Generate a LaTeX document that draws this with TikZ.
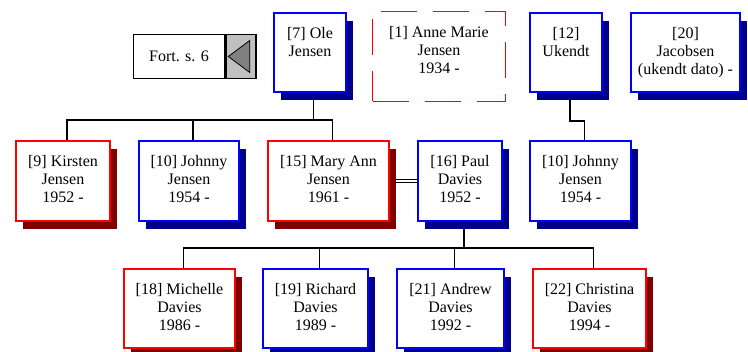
\documentclass[tikz,border=0pt]{standalone}
\usepackage{fontspec}
\setmainfont{Liberation Serif}
\usetikzlibrary{shadows, backgrounds, positioning}
\definecolor{navy}{RGB}{0,0,140}
\definecolor{maroon}{RGB}{128,0,0}
\definecolor{silver}{RGB}{192,192,192}
\newcommand{\who}[1]{\begin{tabular}[t]{@{}c@{}}#1\end{tabular}}
\tikzset{
	person/.style={draw, line width=1.6pt, fill=white, inner sep=0pt, text height=12pt, text depth=40pt},
	man/.style={person, draw=blue, drop shadow={shadow xshift=7pt, shadow yshift=-8pt, fill=navy, opacity=1}},
	woman/.style={person, draw=red, drop shadow={shadow xshift=7pt, shadow yshift=-8pt, fill=maroon, opacity=1}},
	marriage/.style={double, double distance=2.2pt, line width=0.6pt},
	descent/.style={line width=1.2pt}
}

\begin{document}
\begin{tikzpicture}[x=1pt, y=-1pt, every node/.style={font=\fontsize{16}{18}\selectfont}]
\useasboundingbox (0,0) rectangle (748,352);
% top row
\node[draw, line width=1.5pt, fill=white, minimum width=91pt, minimum height=44pt, inner sep=0pt] (fort) at (179,56.5) {Fort. s. 6};
\node[draw, line width=1.5pt, fill=silver, minimum width=30pt, minimum height=44pt, anchor=west] (fortbtn) at (fort.east) {};
\filldraw[fill=gray, line width=0.8pt] ([xshift=3pt]fortbtn.west) -- ([xshift=-7pt, yshift=16pt]fortbtn.east) -- ([xshift=-7pt, yshift=-16pt]fortbtn.east) -- cycle;
\node[man, minimum width=72.5pt, minimum height=79.5pt] (ole) at (310,52.5) {\who{[7] Ole\\Jensen}};
\node[person, draw=red, line width=0.8pt, dash pattern=on 36pt off 16pt, minimum width=133pt, minimum height=90pt, text depth=49pt] (anne) at (439,56.5) {\who{[1] Anne Marie\\Jensen\\1934 -}};
\node[man, minimum width=72.5pt, minimum height=79.5pt] (ukendt) at (566,52.5) {\who{[12]\\Ukendt}};
\node[man, minimum width=109.5pt, minimum height=79.5pt] (jacob) at (685.5,52.5) {\who{[20]\\Jacobsen\\(ukendt dato) -}};
% children
\node[woman, minimum width=94.5pt, minimum height=80.5pt] (kirsten) at (63,181) {\who{[9] Kirsten\\Jensen\\1952 -}};
\node[man, minimum width=100.5pt, minimum height=80.5pt] (johnny) at (189,181) {\who{[10] Johnny\\Jensen\\1954 -}};
\node[woman, minimum width=121.5pt, minimum height=80.5pt] (mary) at (328.5,181) {\who{[15] Mary Ann\\Jensen\\1961 -}};
\node[man, minimum width=84.5pt, minimum height=80.5pt] (paul) at (460,181) {\who{[16] Paul\\Davies\\1952 -}};
\node[man, minimum width=101.5pt, minimum height=80.5pt] (johnnyb) at (580.5,181) {\who{[10] Johnny\\Jensen\\1954 -}};
% grandchildren
\node[woman, minimum width=111.5pt, minimum height=79.5pt] (michelle) at (179.5,308.5) {\who{[18] Michelle\\Davies\\1986 -}};
\node[man, minimum width=105.5pt, minimum height=79.5pt] (richard) at (315.5,308.5) {\who{[19] Richard\\Davies\\1989 -}};
\node[man, minimum width=107.5pt, minimum height=79.5pt] (andrew) at (450.5,308.5) {\who{[21] Andrew\\Davies\\1992 -}};
\node[woman, minimum width=113.5pt, minimum height=79.5pt] (christina) at (589.5,308.5) {\who{[22] Christina\\Davies\\1994 -}};
\begin{scope}[on background layer]
	\foreach \kid in {kirsten, johnny, mary}
		\draw[descent] ([xshift=3.5pt]ole.south) -- ++(0,27) -| ([xshift=4pt]\kid.north);
	\draw[descent] ([xshift=4pt]ukendt.south) -- ++(0,28) -| ([xshift=4pt]johnnyb.north);
	\foreach \kid in {michelle, richard, andrew, christina}
		\draw[descent] ([xshift=4pt]paul.south) -- ++(0,26) -| ([xshift=4pt]\kid.north);
	\draw[marriage] (fortbtn.east) -- (fortbtn.east -| ole.west);
	\draw[marriage] (anne.west -| ole.east) -- (anne.west);
	\draw[marriage] (anne.east) -- (anne.east -| ukendt.west);
	\draw[marriage] ([yshift=-4pt]ukendt.east) -- ([yshift=-4pt]jacob.west);
	\draw[marriage] (mary.east) -- (paul.west);
\end{scope}
\end{tikzpicture}
\end{document}
